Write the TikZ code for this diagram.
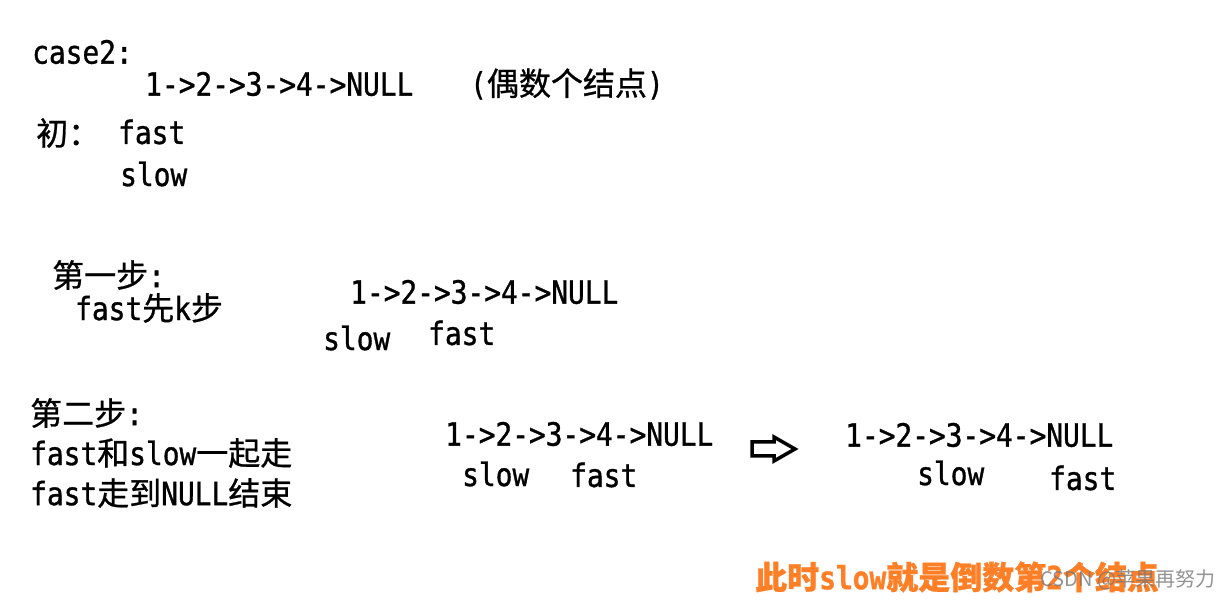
\documentclass[tikz,border=0pt]{standalone}
\usepackage{fontspec}
\setmainfont{DejaVu Sans Mono}[FakeStretch=0.87,FakeBold=1]
\newfontfamily\cn{Noto Sans CJK SC}[FakeBold=0.8]
\newfontfamily\cnmark{Noto Sans CJK SC}
\definecolor{hint}{RGB}{255,127,39}
\definecolor{wmark}{RGB}{120,120,120}
\begin{document}
\begin{tikzpicture}[x=1pt,y=-1pt,
  txt/.style={anchor=west,inner sep=0pt,font=\fontsize{32}{38}\selectfont},
  note/.style={txt,text=hint,font=\fontsize{32}{38}\selectfont\bfseries}]
\useasboundingbox[fill=white] (0,0) rectangle (1227,601);
% case 2
\node[txt] (case) at (32,52) {case2:};
\node[txt] (paren) at (470,84) {({\cn 偶数个结点})};
\node[txt] (init) at (36,133) {{\cn 初：}};
\node[txt] (fastA) at (118,132) {fast};
\node[txt] (slowA) at (120,174) {slow};
% steps
\node[txt] (stepA) at (52,275) {{\cn 第一步}:};
\node[txt] (stepAt) at (75,308) {fast{\cn 先}k{\cn 步}};
\node[txt] (stepB) at (30,413) {{\cn 第二步}:};
\node[txt] (stepBt) at (30,453) {fast{\cn 和}slow{\cn 一起走}};
\node[txt] (stepBe) at (30,493) {fast{\cn 走到}NULL{\cn 结束}};
\foreach \nm/\x/\y in {lstA/145/84,lstB/350/292,lstC/445/434,lstD/845/435}
  \node[txt] (\nm) at (\x,\y) {1->2->3->4->NULL};
\node[txt] (slowB) at (323,338) {slow};
\node[txt] (fastB) at (428,333) {fast};
\node[txt] (slowC) at (462,474) {slow};
\node[txt] (fastC) at (570,475) {fast};
\node[txt] (slowD) at (917,473) {slow};
\node[txt] (fastD) at (1049,478) {fast};
\draw[line width=3.5pt,line join=miter]
  (752,442) -- (774,442) -- (774,437) -- (795,449) -- (774,461) -- (774,456) -- (752,456) -- cycle;
\node[note] (result) at (755,577) {{\cn\bfseries 此时}slow{\cn\bfseries 就是倒数第}2{\cn\bfseries 个结点}};
\node[anchor=west,inner sep=0pt,text=wmark,opacity=.8,font=\cnmark\fontsize{20}{24}\selectfont] (mark) at (1040,580) {CSDN @苹果再努力};
\end{tikzpicture}
\end{document}
